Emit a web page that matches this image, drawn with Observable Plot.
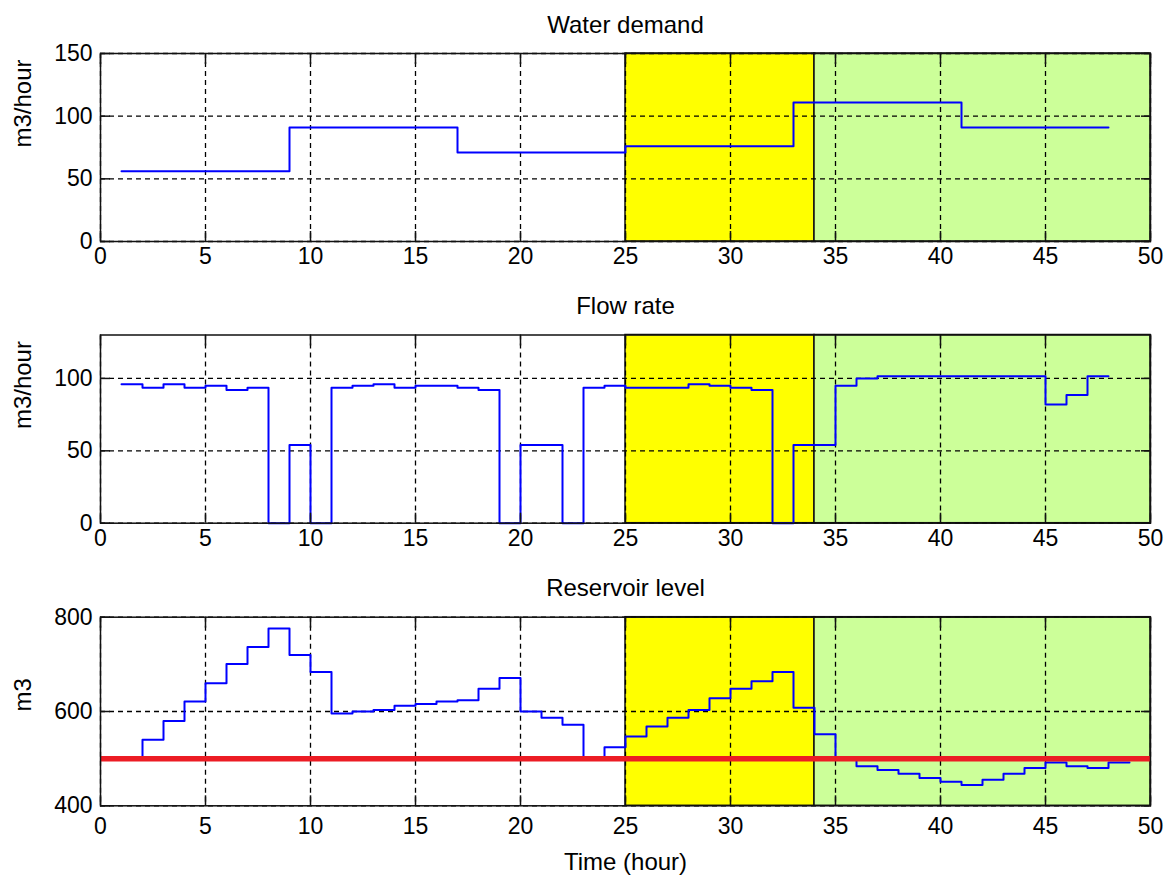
<!DOCTYPE html>
<html>
<head>
<meta charset="utf-8">
<script src="https://cdn.jsdelivr.net/npm/d3@7"></script>
<script src="https://cdn.jsdelivr.net/npm/@observablehq/plot@0.6"></script>
<style>
  html, body { margin: 0; padding: 0; background: #ffffff; }
  #chart svg { display: block; }
</style>
</head>
<body>
<div id="chart"></div>
<script>
// ---- data ----
const hours = [1,2,3,4,5,6,7,8,9,10,11,12,13,14,15,16,17,18,19,20,21,22,23,24,25,26,27,28,29,30,31,32,33,34,35,36,37,38,39,40,41,42,43,44,45,46,47,48,49];

const demand = [56,56,56,56,56,56,56,56, 91,91,91,91,91,91,91,91, 71,71,71,71,71,71,71,71,
                76,76,76,76,76,76,76,76, 111,111,111,111,111,111,111,111, 91,91,91,91,91,91,91,91];

const flow = [96,93.5,96,93.5,95,92,93.5,0, 54,0,93.5,95,96,93.5,95,95, 93.5,92,0,54,54,0,93.5,95,
              93.5,93.5,93.5,96,95,93.5,92,0, 54,54,95,100,101.5,101.5,101.5,101.5, 101.5,101.5,101.5,101.5,82,88.5,101.5,101.5];

const level = [500,540,580,621,660,701,737,776, 720,684,596,600,603,612,616,621, 624,648,671,600,587,572,500,524,
               547,568,587,603,628,648,664,684, 608,552,500,484,476,468,459,451, 444,455,468,480,492,484,480,492, 492];

const minLevel = [500];

const zoneStart = [25, 34];
const zoneEnd = [34, 50];
const zoneColor = ["#ffff00", "#ccff99"];

const xTicks = [0,5,10,15,20,25,30,35,40,45,50];
const demandTicks = [0,50,100,150];
const flowTicks = [0,50,100];
const levelTicks = [400,600,800];

const titles = ["Water demand", "Flow rate", "Reservoir level"];
const yLabels = ["m3/hour", "m3/hour", "m3"];
const xLabel = "Time (hour)";

// ---- drawing ----
const FONT = "'Liberation Sans', Arial, Helvetica, sans-serif";

function panel({values, yDomain, yTicks, title, yLabel, height, mt, mb, xPad, extra = []}) {
  const data = values.map((v, i) => ({x: hours[i], y: v}));
  const zones = zoneStart.map((s, i) => ({x1: s, x2: zoneEnd[i], fill: zoneColor[i]}));
  const tickStyle = {stroke: "#111", strokeWidth: 1.5, fill: "none", tickSize: -10, label: null};
  return Plot.plot({
    width: 1175,
    height,
    marginLeft: 100,
    marginRight: 25,
    marginTop: mt,
    marginBottom: mb,
    style: {fontFamily: FONT, fontSize: "23px", color: "black", background: "white", overflow: "visible"},
    x: {domain: [0, 50], label: null},
    y: {domain: yDomain, label: null},
    marks: [
      Plot.rect(zones, {x1: "x1", x2: "x2", fill: "fill", stroke: "#111", strokeWidth: 1.5}),
      Plot.gridX(xTicks, {stroke: "black", strokeOpacity: 1, strokeWidth: 1.3, strokeDasharray: "5,4"}),
      Plot.gridY(yTicks, {stroke: "black", strokeOpacity: 1, strokeWidth: 1.3, strokeDasharray: "5,4"}),
      Plot.line(data, {x: "x", y: "y", curve: "step-after", stroke: "#0000ff", strokeWidth: 2}),
      ...extra,
      Plot.frame({stroke: "#111", strokeWidth: 1.5}),
      Plot.axisX(xTicks, {anchor: "bottom", ...tickStyle}),
      Plot.axisX(xTicks, {anchor: "top", ...tickStyle}),
      Plot.axisY(yTicks, {anchor: "left", ...tickStyle}),
      Plot.axisY(yTicks, {anchor: "right", ...tickStyle}),
      Plot.axisX(xTicks, {anchor: "bottom", tickSize: 0, tickPadding: xPad, fontSize: 23, fill: "black", label: null}),
      Plot.axisY(yTicks, {anchor: "left", tickSize: 0, tickPadding: 8, fontSize: 23, fill: "black", label: null}),
      Plot.text([title], {frameAnchor: "top", lineAnchor: "bottom", dy: -21, fontSize: 24, fill: "black"}),
      Plot.text([yLabel], {frameAnchor: "left", dx: -77, rotate: -90, fontSize: 24, fill: "black"})
    ]
  });
}

const chart = document.getElementById("chart");

chart.appendChild(panel({
  values: demand, yDomain: [0, 150], yTicks: demandTicks,
  title: titles[0], yLabel: yLabels[0], height: 285, mt: 53, mb: 44, xPad: 6
}));

chart.appendChild(panel({
  values: flow, yDomain: [0, 130], yTicks: flowTicks,
  title: titles[1], yLabel: yLabels[1], height: 282, mt: 49.5, mb: 44.3, xPad: 6
}));

chart.appendChild(panel({
  values: level, yDomain: [400, 800], yTicks: levelTicks,
  title: titles[2], yLabel: yLabels[2], height: 309, mt: 49.7, mb: 70.7, xPad: 12,
  extra: [
    Plot.ruleY(minLevel, {stroke: "#ec1c24", strokeWidth: 5.5}),
    Plot.text([xLabel], {frameAnchor: "bottom", lineAnchor: "bottom", dy: 64, fontSize: 24, fill: "black"})
  ]
}));
</script>
</body>
</html>
